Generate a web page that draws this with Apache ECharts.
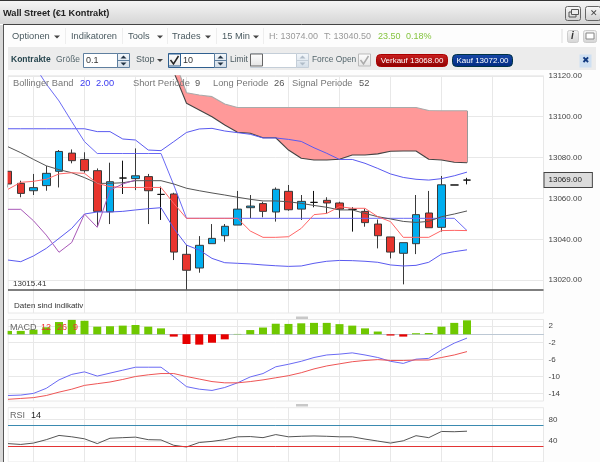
<!DOCTYPE html>
<html><head><meta charset="utf-8">
<style>html,body{margin:0;padding:0;background:#fff;overflow:hidden}#c{width:600px;height:462px;filter:blur(0.3px)}</style>
<script src="https://cdn.jsdelivr.net/npm/echarts@6/dist/echarts.min.js"></script>
</head><body><div id="c"></div>
<script>
const categories=["1","2","3","4","5","6","7","8","9","10","11","12","13","14","15","16","17","18","19","20","21","22","23","24","25","26","27","28","29","30","31","32","33","34","35","36","37","38","39","40","41","42","43"];
const opens =[13073.3,13067.4,13063.8,13066.3,13073.3,13082.2,13079.1,13073.6,13053.5,13070,13069.7,13070.7,13062,13062.2,13032.7,13026,13037.9,13041.8,13047,13055.5,13057.5,13053.4,13063.5,13054.8,13058.1,13059.1,13057.8,13054.7,13053.7,13047.5,13041.2,13033.2,13037.9,13052.9,13045.9,13066.6,13069];
const closes=[13067.1,13062.5,13065.3,13072.3,13083,13078.5,13073.6,13053.7,13068.2,13070,13071.1,13063.8,13062,13033.8,13024.9,13037.1,13040.5,13046.4,13054.8,13056.3,13053.7,13064.5,13054.5,13058.6,13058.1,13057.8,13054.8,13054.7,13048.2,13041.8,13033.8,13038.4,13052.1,13045.7,13066.7,13066.6,13069];
const lows  =[13065.4,13060.6,13061.7,13063.8,13065.4,13077.2,13072.6,13046.5,13047.5,13062.2,13064.1,13047.5,13049.5,13029.9,13015.41,13023.7,13037.9,13038.9,13047,13050.3,13050.8,13048.7,13054,13049.5,13055.7,13052.7,13050.4,13043.8,13046.2,13035.6,13030.7,13018,13032.8,13045.7,13043.8,13066.6,13066.9];
const highs =[13073.3,13068.7,13072,13075.9,13083.7,13084,13082.6,13074.7,13077.5,13078.5,13084.5,13072,13065.8,13062.8,13037.2,13041.6,13047.5,13047.5,13063.7,13061.7,13058.4,13065.4,13066.6,13061.7,13063.7,13060.6,13058.4,13055.7,13055,13049.7,13041.2,13038.4,13061.7,13063.7,13071,13066.6,13070.1];
const bollUpper=[13094.1,13094.1,13094.1,13094.1,13094.1,13094.1,13094.1,13092.7,13092.7,13089.1,13088.6,13083.7,13083.4,13087.8,13092.3,13094,13094.3,13093,13092.2,13091.4,13089.6,13089.6,13088.9,13087.9,13084.8,13082.1,13079.1,13079.1,13077.2,13074.7,13072,13070.3,13069.4,13069,13069.7,13071.1,13072.9];
const bollLower=[13029.9,13029.1,13031.9,13035.6,13040.5,13045.4,13052.4,13053.4,13053.4,13053.7,13054.4,13055,13055.5,13045.4,13037.2,13034.8,13030.7,13028.6,13028.3,13028,13027.5,13027.1,13026.8,13027,13028.3,13029.3,13029.7,13029.6,13029.3,13028.8,13027.5,13027,13027.3,13028.8,13032.8,13034,13034.9];
const longLine=[null,null,13125.6,13116,13107.7,13097.6,13087.8,13082,13082,13082,13082,13082,13082,13066.6,13050.3,13050.3,13050.3,13050.3,13050.3,13050.3,13050.3,13050.3,13050.3,13050.3,13050.3,13050.3,13050.3,13050.3,13050.3,13050.3,13050.3,13050.3,13050.3,13050.3,13050.3,13050.3,13044.3];
const midLine=[13085.3,13082.4,13079.1,13076,13074.1,13072.6,13070.2,13067.4,13067.4,13067.7,13068.7,13068.7,13068.7,13067.1,13065,13063.8,13062.7,13061.7,13060.6,13059.6,13058.8,13058.8,13058.4,13057.6,13056.6,13055.7,13054.4,13054.4,13052.7,13051.1,13050,13048.8,13048.3,13048.8,13051.1,13052.4,13053.9];
const redLine=[13064.5,13067.9,13068.4,13069.4,13072,13072.6,13072.3,13067.4,13065.8,13065.4,13065.4,13065.4,13065.4,13057.6,13050.3,13050.3,13050.3,13050.3,13050.3,13044.1,13041,13041,13041.3,13045.4,13052.1,13052.7,13056,13055.2,13055.2,13051.1,13048.7,13041,13041,13041,13044.3,13044.4,13044.3];
const lagLine=[13054.7,13054.7,13049.1,13042.1,13033.7,13038.5,13052.4,13045.9,13064.1,13067.1,13069];
const cloudTop=[null,null,null,null,null,null,null,null,null,null,null,null,null,13128.7,13111.7,13110.6,13109.8,13106.2,13104.5,13104.5,13104.5,13104.5,13104.5,13104.5,13104.5,13104.5,13104.5,13104.5,13104.5,13104.5,13104.5,13104.5,13104.5,13103,13102.9,13102.9,13102.9];
const cloudBottom=[null,null,null,null,null,null,null,null,null,null,null,null,null,13121.9,13106.6,13103.3,13100,13095.9,13092.4,13091.9,13089.7,13089.7,13083.7,13079.7,13078.8,13078.8,13079.2,13081.3,13081.3,13081.8,13083.1,13083.2,13083.2,13079.2,13078.8,13077.7,13077.5];
const macdHist=[0.8,0.8,1.1,1.66,2.9,3.4,3.2,1.8,1.9,2.05,2.2,1.8,1.4,-0.55,-2.3,-2.45,-2,-1.2,0.08,1,1.6,2.5,2.45,2.6,2.7,2.7,2.4,2.05,1.4,0.65,-0.3,-0.55,0.25,0.3,1.8,2.7,3.3];
const macdLine=[-14.5,-14.4,-14,-12.8,-10.8,-9.5,-8.9,-9.9,-9.2,-8.5,-7.8,-7.8,-7.8,-10,-12.4,-13,-13.3,-12.6,-11.5,-10.1,-9.3,-7.7,-7.1,-6.4,-5.5,-4.9,-4.7,-4.4,-4.9,-5.5,-6.4,-6.9,-5.9,-5.7,-3.7,-2.1,-0.9];
const macdSignal=[-15.4,-15.2,-15,-14.5,-13.7,-13,-12.1,-11.7,-11.3,-10.7,-10,-9.6,-9.3,-9.3,-10,-10.6,-11.2,-11.5,-11.5,-11.2,-10.8,-10.3,-9.8,-9.1,-8.2,-7.5,-7,-6.5,-6.2,-6,-6.2,-6.2,-6.1,-6.1,-5.5,-4.9,-4.1];
const rsiLine=[34.7,33.1,35.7,42.1,50.1,47.5,43.7,34.7,44.8,45.9,46.9,42.1,41.6,31.5,28.3,36.8,38.9,42.1,47.5,48,45.9,51.7,47.5,48.5,49.1,48.5,47.5,47.5,43.2,39.5,35.7,40,49.6,45.9,57.6,57.1,58.1];
const priceTicks=[13020,13040,13060,13080,13100,13120];
const macdTicks=[-14,-10,-6,-2,2];
const rsiTicks=[40,80];
const lowMark=13015.41, lastPrice=13069;

const F='"Liberation Sans",Arial,sans-serif';
const g=[];
const add=o=>g.push(Object.assign({silent:true,z:100},o));
const t=(x,y,text,fill,size,extra)=>add({type:'text',x,y,style:Object.assign({text,fill:fill||'#555',font:(size||9)+'px '+F,textVerticalAlign:'middle'},extra||{})});
const r=(x,y,w,h,fill,stroke,rad)=>add({type:'rect',shape:{x,y,width:w,height:h,r:rad||0},style:{fill:fill||'none',stroke:stroke||'none',lineWidth:1}});
const ln=(x1,y1,x2,y2,stroke)=>add({type:'line',shape:{x1,y1,x2,y2},style:{stroke}});
const grad=(a,b)=>({type:'linear',x:0,y:0,x2:0,y2:1,colorStops:[{offset:0,color:a},{offset:1,color:b}]});
const tri=(x,y)=>add({type:'polygon',shape:{points:[[x,y],[x+6,y],[x+3,y+3]]},style:{fill:'#444'}});
const spin=(x,y,c,a)=>{r(x,y,12,14,grad('#f4f8fc','#d4dee8'),c);ln(x,y+7,x+12,y+7,c);add({type:'polygon',shape:{points:[[x+3,y+5],[x+9,y+5],[x+6,y+2]]},style:{fill:a}});add({type:'polygon',shape:{points:[[x+3,y+9],[x+9,y+9],[x+6,y+12]]},style:{fill:a}});};
const check=(x,y,on,col)=>{r(x,y,12,12,grad('#ffffff','#e4e4e4'),col);if(on)add({type:'polyline',shape:{points:[[x+2,y+6],[x+5,y+10],[x+10,y+2]]},style:{stroke:on,fill:'none',lineWidth:1.5}});};
const sep=x=>ln(x,28,x,44,'#eeeeee');

// window frame
r(0,0,600,24,grad('#f6f6f6','#d6d6d6'));
ln(0,0.5,600,0.5,'#333');
ln(3.5,24.5,600,24.5,'#444');
r(0,25,3,437,'#d8d8d8');
r(4,70,3.6,392,'#ffffff');
ln(3.5,24,3.5,462,'#555');
t(3,13,'Wall Street (€1 Kontrakt)','#222',9.2,{font:'bold 9.2px '+F});
r(565.5,6.5,15,14,grad('#fafafa','#d0d0d0'),'#666',2);
r(569,12,7,5,'none','#555');r(571.5,9.5,7,5,'#eee','#555');
r(585.5,6.5,15,14,grad('#fafafa','#d0d0d0'),'#666',2);
t(589.5,13.5,'✕','#444',9);
// toolbar row 1
t(12,36.5,'Optionen','#4a5a60',9.3);tri(54,35.5);sep(65.5);
t(71,36.5,'Indikatoren','#4a5a60',9.3);sep(122.5);
t(128,36.5,'Tools','#4a5a60',9.3);tri(157,35.5);sep(167.5);
t(172,36.5,'Trades','#4a5a60',9.3);tri(205,35.5);sep(216.5);
t(222,36.5,'15 Min','#4a5a60',9.3);tri(253,35.5);sep(263.5);
t(269,36.5,'H: 13074.00','#999',9);t(324,36.5,'T: 13040.50','#999',9);
t(378,36.5,'23.50','#86c440',9);t(406,36.5,'0.18%','#86c440',9);
ln(562,29,562,43,'#ddd');
r(567.5,30.5,11,12,grad('#f4f4f4','#d4d4d4'),'#ccc',2);t(571,36.5,'i','#333',10,{font:'italic bold 10px '+F});
r(583.5,30.5,13,12,grad('#f4f4f4','#d4d4d4'),'#ccc',2);r(586,33,8,6,'#fff','#888');
// toolbar row 2
r(8,47,588,23,'#ececec');
t(11,60,'Kontrakte','#27464f',9,{font:'bold 8.5px '+F});
t(56,60,'Größe','#55676d',8.5);
r(83.5,53.5,34,14,'#fff','#5f7f9f');t(86,60.5,'0.1','#333',9);spin(117.5,53.5,'#5f7f9f','#234');
t(136,60,'Stop','#4a5a60',9);tri(157,59);
r(168.5,53.5,46,14,'#fff','#2f5f8f');check(168.5,54,'#222','#2f5f8f');t(183,60.5,'10','#333',9);spin(214.5,53.5,'#5f7f9f','#234');
t(230,60,'Limit','#4a5a60',8.5);
r(250.5,53.5,46,14,'#fff','#c4ced8');check(250.5,54,null,'#666');spin(296.5,53.5,'#c4ced8','#b0bcc8');
t(312,60,'Force Open','#55676d',8.4);check(358.5,54,'#aaa','#bbb');
r(376.5,54.5,71,12,grad('#cc2020','#8c0000'),'#a00',4);t(412,60.5,'Verkauf 13068.00','#fff',8,{textAlign:'center'});
r(452.5,54.5,60,12,grad('#1848a8','#002a80'),'#034',4);t(482.5,60.5,'Kauf 13072.00','#fff',8,{textAlign:'center'});
r(579.5,54.5,12,13,'#cfe0f2');t(582,61,'✖','#123a80',9);
// panel captions
t(13,83,'Bollinger Band','#777',9.3);t(80,83,'20','#3c3cf0',9.3);t(96,83,'2.00','#3c3cf0',9.3);
t(133,83,'Short Periode','#777',9.3);t(195,83,'9','#555',9.3);
t(213,83,'Long Periode','#777',9.3);t(274,83,'26','#555',9.3);
t(292,83,'Signal Periode','#777',9.3);t(359,83,'52','#555',9.3);
t(14,306,'Daten sind indikativ','#333',8,{letterSpacing:0.6});
t(10,328,'MACD','#666',9);t(41,328,'12','#e33',9);t(57,328,'26','#e33',9);t(73,328,'9','#e33',9);
t(10,416,'RSI','#666',9);t(31,416,'14','#222',9);
// panel sashes
r(296,316.5,12,2.5,'#c8c8c8');r(296,404,12,2.5,'#c8c8c8');

const grids=[
 {left:8,right:56.5,top:75.8,height:237.2,show:true,borderColor:'#e8e8e8',borderWidth:1,backgroundColor:'#fff'},
 {left:8,right:56.5,top:319.5,height:81.5,show:true,borderColor:'#e8e8e8',borderWidth:1,backgroundColor:'#fff'},
 {left:8,right:56.5,top:407.7,height:64,show:true,borderColor:'#e8e8e8',borderWidth:1,backgroundColor:'#fff'}
];
const vgrid={show:true,interval:(i)=>(i-2)%4===0,lineStyle:{color:'#e8e8e8',width:1}};
const xAx=(idx,line)=>({type:'category',gridIndex:idx,data:categories,boundaryGap:false,axisTick:{show:false},axisLabel:{show:false},axisLine:line?{show:true,onZero:true,lineStyle:{color:'#bcc8d4',width:1}}:{show:false},splitLine:vgrid});
const yAx=(idx,min,max,ticks,fmt)=>({type:'value',gridIndex:idx,position:'right',min,max,scale:true,axisLine:{show:false},axisTick:{show:false,customValues:ticks},
 axisLabel:{customValues:ticks,margin:5,fontSize:8,fontFamily:F,color:'#444',formatter:fmt},
 splitLine:{show:true,customValues:ticks,lineStyle:{color:'#e8e8e8',width:1}}});
const line=(name,data,color,x,width,extra)=>Object.assign({type:'line',name,data,xAxisIndex:x,yAxisIndex:x,showSymbol:false,silent:true,animation:false,lineStyle:{color,width:width||1},itemStyle:{color}},extra||{});

const option={animation:false,backgroundColor:'#fdfdfd',grid:grids,graphic:{elements:g},
 xAxis:[xAx(0),xAx(1,true),xAx(2)],
 yAxis:[yAx(0,13004,13120,priceTicks,v=>v.toFixed(2)),yAx(1,-15.8,3.5,macdTicks,v=>String(v)),yAx(2,0,102.4,rsiTicks,v=>String(v))],
 series:[
  line('cloudBase',cloudBottom,'#444',0,1.1,{stack:'cloud',z:2,connectNulls:false}),
  line('cloudSpan',cloudTop.map((v,i)=>v==null?null:v-cloudBottom[i]),'#aaa',0,1.1,{stack:'cloud',z:2,areaStyle:{color:'#ff9999',opacity:1},
    markLine:{silent:true,symbol:'none',animation:false,label:{show:false},lineStyle:{color:'#999',width:1,type:'solid'},data:[[{xAxis:36,yAxis:cloudTop[36]},{xAxis:36,yAxis:cloudBottom[36]}]]}}),
  {type:'candlestick',name:'Wall Street',xAxisIndex:0,yAxisIndex:0,barWidth:8,z:3,silent:true,clip:true,
   data:opens.map((o,i)=>[o,closes[i],lows[i],highs[i]]),
   itemStyle:{color:'#00aeef',color0:'#e8352e',borderColor:'#3a3a3a',borderColor0:'#3a3a3a',borderColorDoji:'#111',borderWidth:1},
   markLine:{silent:true,symbol:'none',animation:false,data:[
     {yAxis:lowMark,lineStyle:{color:'#555',width:1.5,type:'solid'},label:{show:true,position:'insideStartTop',distance:[5,2],formatter:String(lowMark),fontSize:8,fontFamily:F,color:'#333'}},
     {yAxis:lastPrice,lineStyle:{color:'transparent'},label:{show:true,position:'end',distance:1,formatter:lastPrice.toFixed(2),fontSize:8,fontFamily:F,color:'#222',backgroundColor:'#dcdcdc',borderColor:'#444',borderWidth:1,padding:[3,10,3,4]}}
   ]}},
  line('upper',bollUpper,'#5a5af0',0,1,{z:4}),
  line('lower',bollLower,'#5a5af0',0,1,{z:4}),
  line('long',longLine,'#6a6af4',0,1,{z:4}),
  line('mid',midLine,'#555',0,1,{z:4}),
  line('red',redLine,'#ff6666',0,1,{z:4}),
  line('lag',lagLine,'#a858b8',0,1,{z:4}),
  {type:'bar',name:'hist',xAxisIndex:1,yAxisIndex:1,barWidth:8,silent:true,clip:true,data:macdHist,itemStyle:{color:p=>p.value>=0?'#6fc800':'#e60000'}},
  line('macd',macdLine,'#6a6af4',1),
  line('signal',macdSignal,'#ee5555',1),
  line('rsi',rsiLine,'#555',2,1,{markLine:{silent:true,symbol:'none',animation:false,label:{show:false},data:[
     {yAxis:70,lineStyle:{color:'#3a8ab0',width:1,type:'solid'}},
     {yAxis:30,lineStyle:{color:'#e33333',width:1,type:'solid'}}]}})
 ]};
echarts.init(document.getElementById('c'),null,{renderer:'canvas'}).setOption(option);
</script></body></html>
